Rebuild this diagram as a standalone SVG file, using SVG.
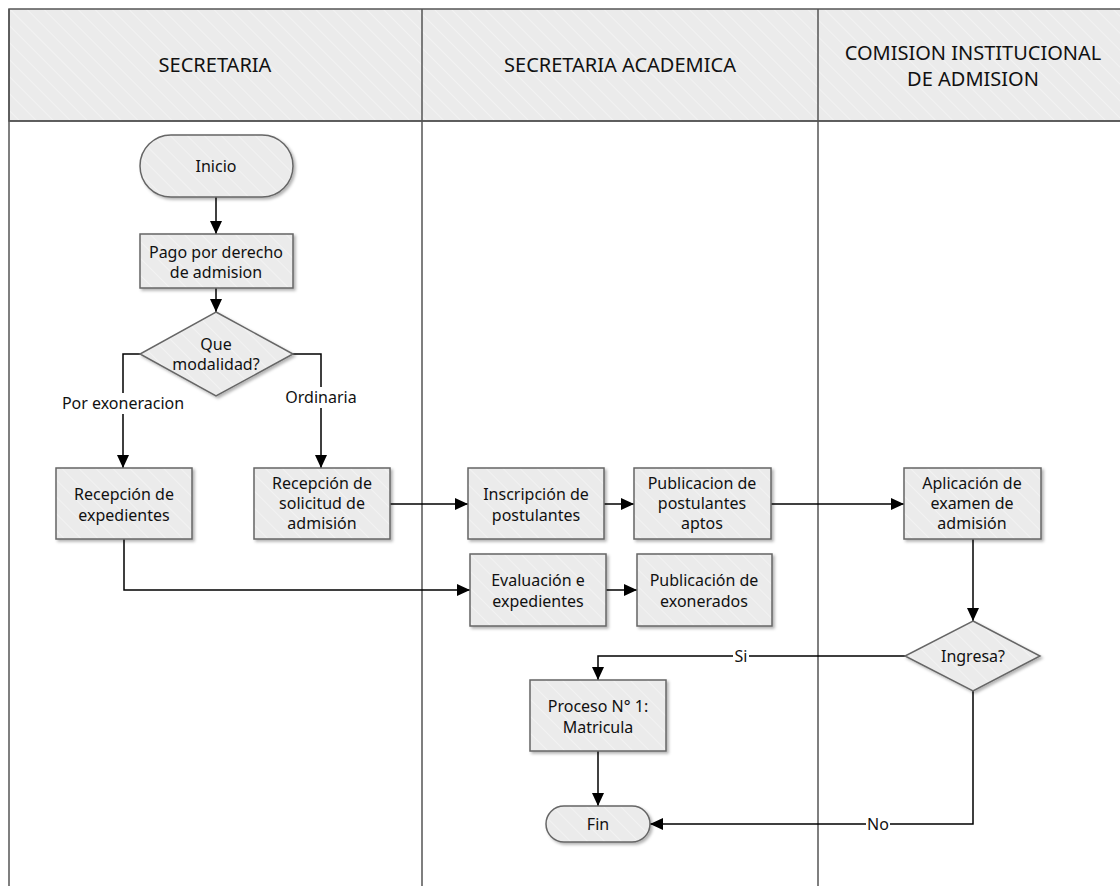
<svg xmlns="http://www.w3.org/2000/svg" width="1120" height="886" viewBox="0 0 1120 886">
  <defs>
    <pattern id="hatch" patternUnits="userSpaceOnUse" width="12" height="12" patternTransform="rotate(-45)">
      <rect width="12" height="12" fill="#ebebeb"/>
      <line x1="0" y1="0" x2="0" y2="12" stroke="#f2f2f2" stroke-width="2"/>
    </pattern>
    <filter id="shadow" x="-10%" y="-10%" width="130%" height="140%">
      <feDropShadow dx="2" dy="2" stdDeviation="1.5" flood-color="#000" flood-opacity="0.3"/>
    </filter>
    <marker id="arrow" markerWidth="14" markerHeight="12" refX="13" refY="6" orient="auto" markerUnits="userSpaceOnUse">
      <path d="M0,0 L13,6 L0,12 z" fill="#000"/>
    </marker>
    <style>
      .hdr { fill: url(#hatch); stroke: #555; stroke-width: 1.5; }
      .lane { fill: none; stroke: #555; stroke-width: 1.5; }
      .node { fill: url(#hatch); stroke: #666; stroke-width: 1.5; filter: url(#shadow); }
      .conn { fill: none; stroke: #000; stroke-width: 1.5; marker-end: url(#arrow); }
      text { font-family: "Noto Sans", "Open Sans", sans-serif; fill: #111; text-anchor: middle; }
      .ht { font-size: 20px; }
      .nt { font-size: 16px; }
      .lbl { font-size: 16px; }
      .lblbg { fill: #fff; }
    </style>
  </defs>

  <rect width="1120" height="886" fill="#fff"/>

  <!-- swimlanes -->
  <g id="lanes">
    <rect class="hdr" x="9" y="9" width="1120" height="112"/>
    <line class="lane" x1="9" y1="9" x2="9" y2="886"/>
    <line class="lane" x1="422" y1="9" x2="422" y2="886"/>
    <line class="lane" x1="818" y1="9" x2="818" y2="886"/>
    <line class="lane" x1="9" y1="121" x2="1120" y2="121"/>
    <text class="ht" x="215" y="72">SECRETARIA</text>
    <text class="ht" x="620" y="72">SECRETARIA ACADEMICA</text>
    <text class="ht" x="973" y="60">COMISION INSTITUCIONAL</text>
    <text class="ht" x="973" y="86">DE ADMISION</text>
  </g>

  <!-- connectors -->
  <g id="connectors">
    <line class="conn" x1="216" y1="197" x2="216" y2="234"/>
    <line class="conn" x1="216" y1="288" x2="216" y2="312"/>
    <polyline class="conn" points="140,354 123,354 123,468"/>
    <polyline class="conn" points="293,354 321,354 321,468"/>
    <line class="conn" x1="390" y1="504" x2="468" y2="504"/>
    <line class="conn" x1="604" y1="504" x2="634" y2="504"/>
    <line class="conn" x1="771" y1="504" x2="904" y2="504"/>
    <polyline class="conn" points="124,539 124,590 470,590"/>
    <line class="conn" x1="606" y1="590" x2="637" y2="590"/>
    <line class="conn" x1="973" y1="539" x2="973" y2="621"/>
    <polyline class="conn" points="905,656 598,656 598,680"/>
    <line class="conn" x1="598" y1="751" x2="598" y2="806"/>
    <polyline class="conn" points="973,691 973,824 650,824"/>
    <!-- connector labels -->
    <rect class="lblbg" x="61" y="393" width="124" height="21"/>
    <text class="lbl" x="123" y="409">Por exoneracion</text>
    <rect class="lblbg" x="286" y="387" width="70" height="21"/>
    <text class="lbl" x="321" y="403">Ordinaria</text>
    <rect class="lblbg" x="733" y="647" width="16" height="18"/>
    <text class="lbl" x="741" y="662">Si</text>
    <rect class="lblbg" x="866" y="815" width="24" height="18"/>
    <text class="lbl" x="878" y="830">No</text>
  </g>

  <g id="inicio">
    <rect class="node" x="140" y="135" width="153" height="62" rx="31"/>
    <text class="nt" x="216" y="172">Inicio</text>
  </g>
  <g id="pago">
    <rect class="node" x="140" y="234" width="153" height="54"/>
    <text class="nt" x="216" y="258">Pago por derecho</text>
    <text class="nt" x="216" y="278">de admision</text>
  </g>
  <g id="modalidad">
    <polygon class="node" points="216,312 293,354 216,396 140,354"/>
    <text class="nt" x="216" y="350">Que</text>
    <text class="nt" x="216" y="370">modalidad?</text>
  </g>
  <g id="recepcion-expedientes">
    <rect class="node" x="56" y="468" width="136" height="71"/>
    <text class="nt" x="124" y="500">Recepción de</text>
    <text class="nt" x="124" y="521">expedientes</text>
  </g>
  <g id="recepcion-solicitud">
    <rect class="node" x="254" y="468" width="136" height="71"/>
    <text class="nt" x="322" y="489">Recepción de</text>
    <text class="nt" x="322" y="509">solicitud de</text>
    <text class="nt" x="322" y="529">admisión</text>
  </g>
  <g id="inscripcion">
    <rect class="node" x="468" y="468" width="136" height="71"/>
    <text class="nt" x="536" y="500">Inscripción de</text>
    <text class="nt" x="536" y="521">postulantes</text>
  </g>
  <g id="publicacion-aptos">
    <rect class="node" x="634" y="468" width="137" height="71"/>
    <text class="nt" x="702" y="489">Publicacion de</text>
    <text class="nt" x="702" y="509">postulantes</text>
    <text class="nt" x="702" y="529">aptos</text>
  </g>
  <g id="evaluacion">
    <rect class="node" x="470" y="554" width="136" height="72"/>
    <text class="nt" x="538" y="586">Evaluación e</text>
    <text class="nt" x="538" y="607">expedientes</text>
  </g>
  <g id="publicacion-exonerados">
    <rect class="node" x="637" y="554" width="135" height="72"/>
    <text class="nt" x="704" y="586">Publicación de</text>
    <text class="nt" x="704" y="607">exonerados</text>
  </g>
  <g id="aplicacion">
    <rect class="node" x="904" y="468" width="137" height="71"/>
    <text class="nt" x="972" y="489">Aplicación de</text>
    <text class="nt" x="972" y="509">examen de</text>
    <text class="nt" x="972" y="529">admisión</text>
  </g>
  <g id="ingresa">
    <polygon class="node" points="973,621 1040,656 973,691 905,656"/>
    <text class="nt" x="973" y="662">Ingresa?</text>
  </g>
  <g id="matricula">
    <rect class="node" x="530" y="680" width="136" height="71"/>
    <text class="nt" x="598" y="712">Proceso N° 1:</text>
    <text class="nt" x="598" y="733">Matricula</text>
  </g>
  <g id="fin">
    <rect class="node" x="546" y="806" width="104" height="36" rx="18"/>
    <text class="nt" x="598" y="830">Fin</text>
  </g>
</svg>
